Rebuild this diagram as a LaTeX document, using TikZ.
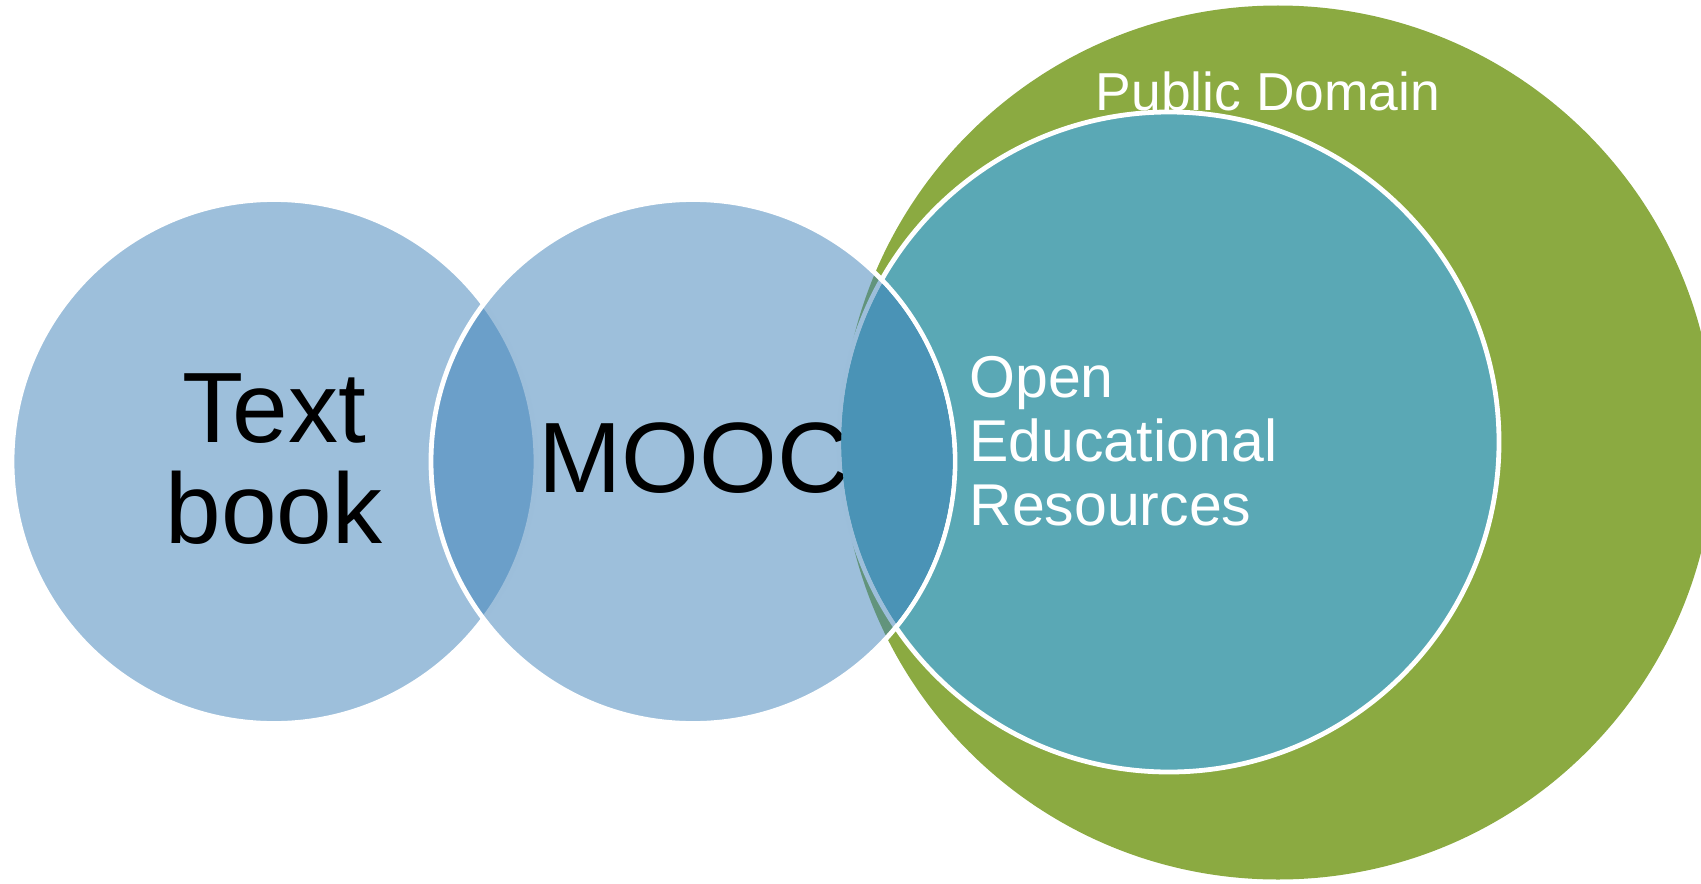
\documentclass[tikz,border=0pt]{standalone}
\usepackage{fontspec}
\setmainfont{Liberation Sans}
\definecolor{vennblue}{RGB}{59,127,183}
\definecolor{oerteal}{RGB}{90,168,181}
\definecolor{pdgreen}{RGB}{139,170,65}
\begin{document}
\begin{tikzpicture}[x=0.5pt,y=-0.5pt,
  bluecirc/.style={fill=vennblue,fill opacity=0.5,draw=white,line width=2.4pt},
  bigtext/.style={font=\fontsize{50}{50}\selectfont,text=black,inner sep=0pt,anchor=base},
  oertext/.style={font=\fontsize{29.5}{32}\selectfont,text=white,inner sep=0pt,anchor=base west},
  pdtext/.style={font=\fontsize{26.7}{30}\selectfont,text=white,inner sep=0pt,anchor=base}]
\useasboundingbox (0,0) rectangle (1701,883);
\clip (0,0) rectangle (1701,883);
% Public Domain
\coordinate (pdc) at (1278,442.5);
\fill[pdgreen] (pdc) circle[radius=218.5pt];
% OER
\coordinate (oerc) at (1169,442);
\filldraw[fill=oerteal,draw=white,line width=2.4pt] (oerc) circle[radius=165pt];
% Textbook and MOOC
\coordinate (tbc) at (274,461.5);
\coordinate (mc) at (693,461.5);
\path[bluecirc] (tbc) circle[radius=131pt];
\path[bluecirc] (mc) circle[radius=131pt];
% texts
\node[bigtext] (tb1) at (274,442) {Text};
\node[bigtext] (tb2) at (274,543) {book};
\node[bigtext] (mooc) at (694,492) {MOOC};
% lens MOOC/OER drawn over the MOOC text
\begin{scope}
\clip (mc) circle[radius=129.8pt];
\clip (oerc) circle[radius=163.8pt];
\fill[oerteal] (oerc) circle[radius=165pt];
\fill[vennblue,fill opacity=0.5] (mc) circle[radius=132pt];
\end{scope}
\node[oertext] (oer1) at (969,397) {Open};
\node[oertext] (oer2) at (969,461) {Educational};
\node[oertext] (oer3) at (969,525) {Resources};
\node[pdtext] (pd) at (1268,111) {Public Domain};
\end{tikzpicture}
\end{document}
